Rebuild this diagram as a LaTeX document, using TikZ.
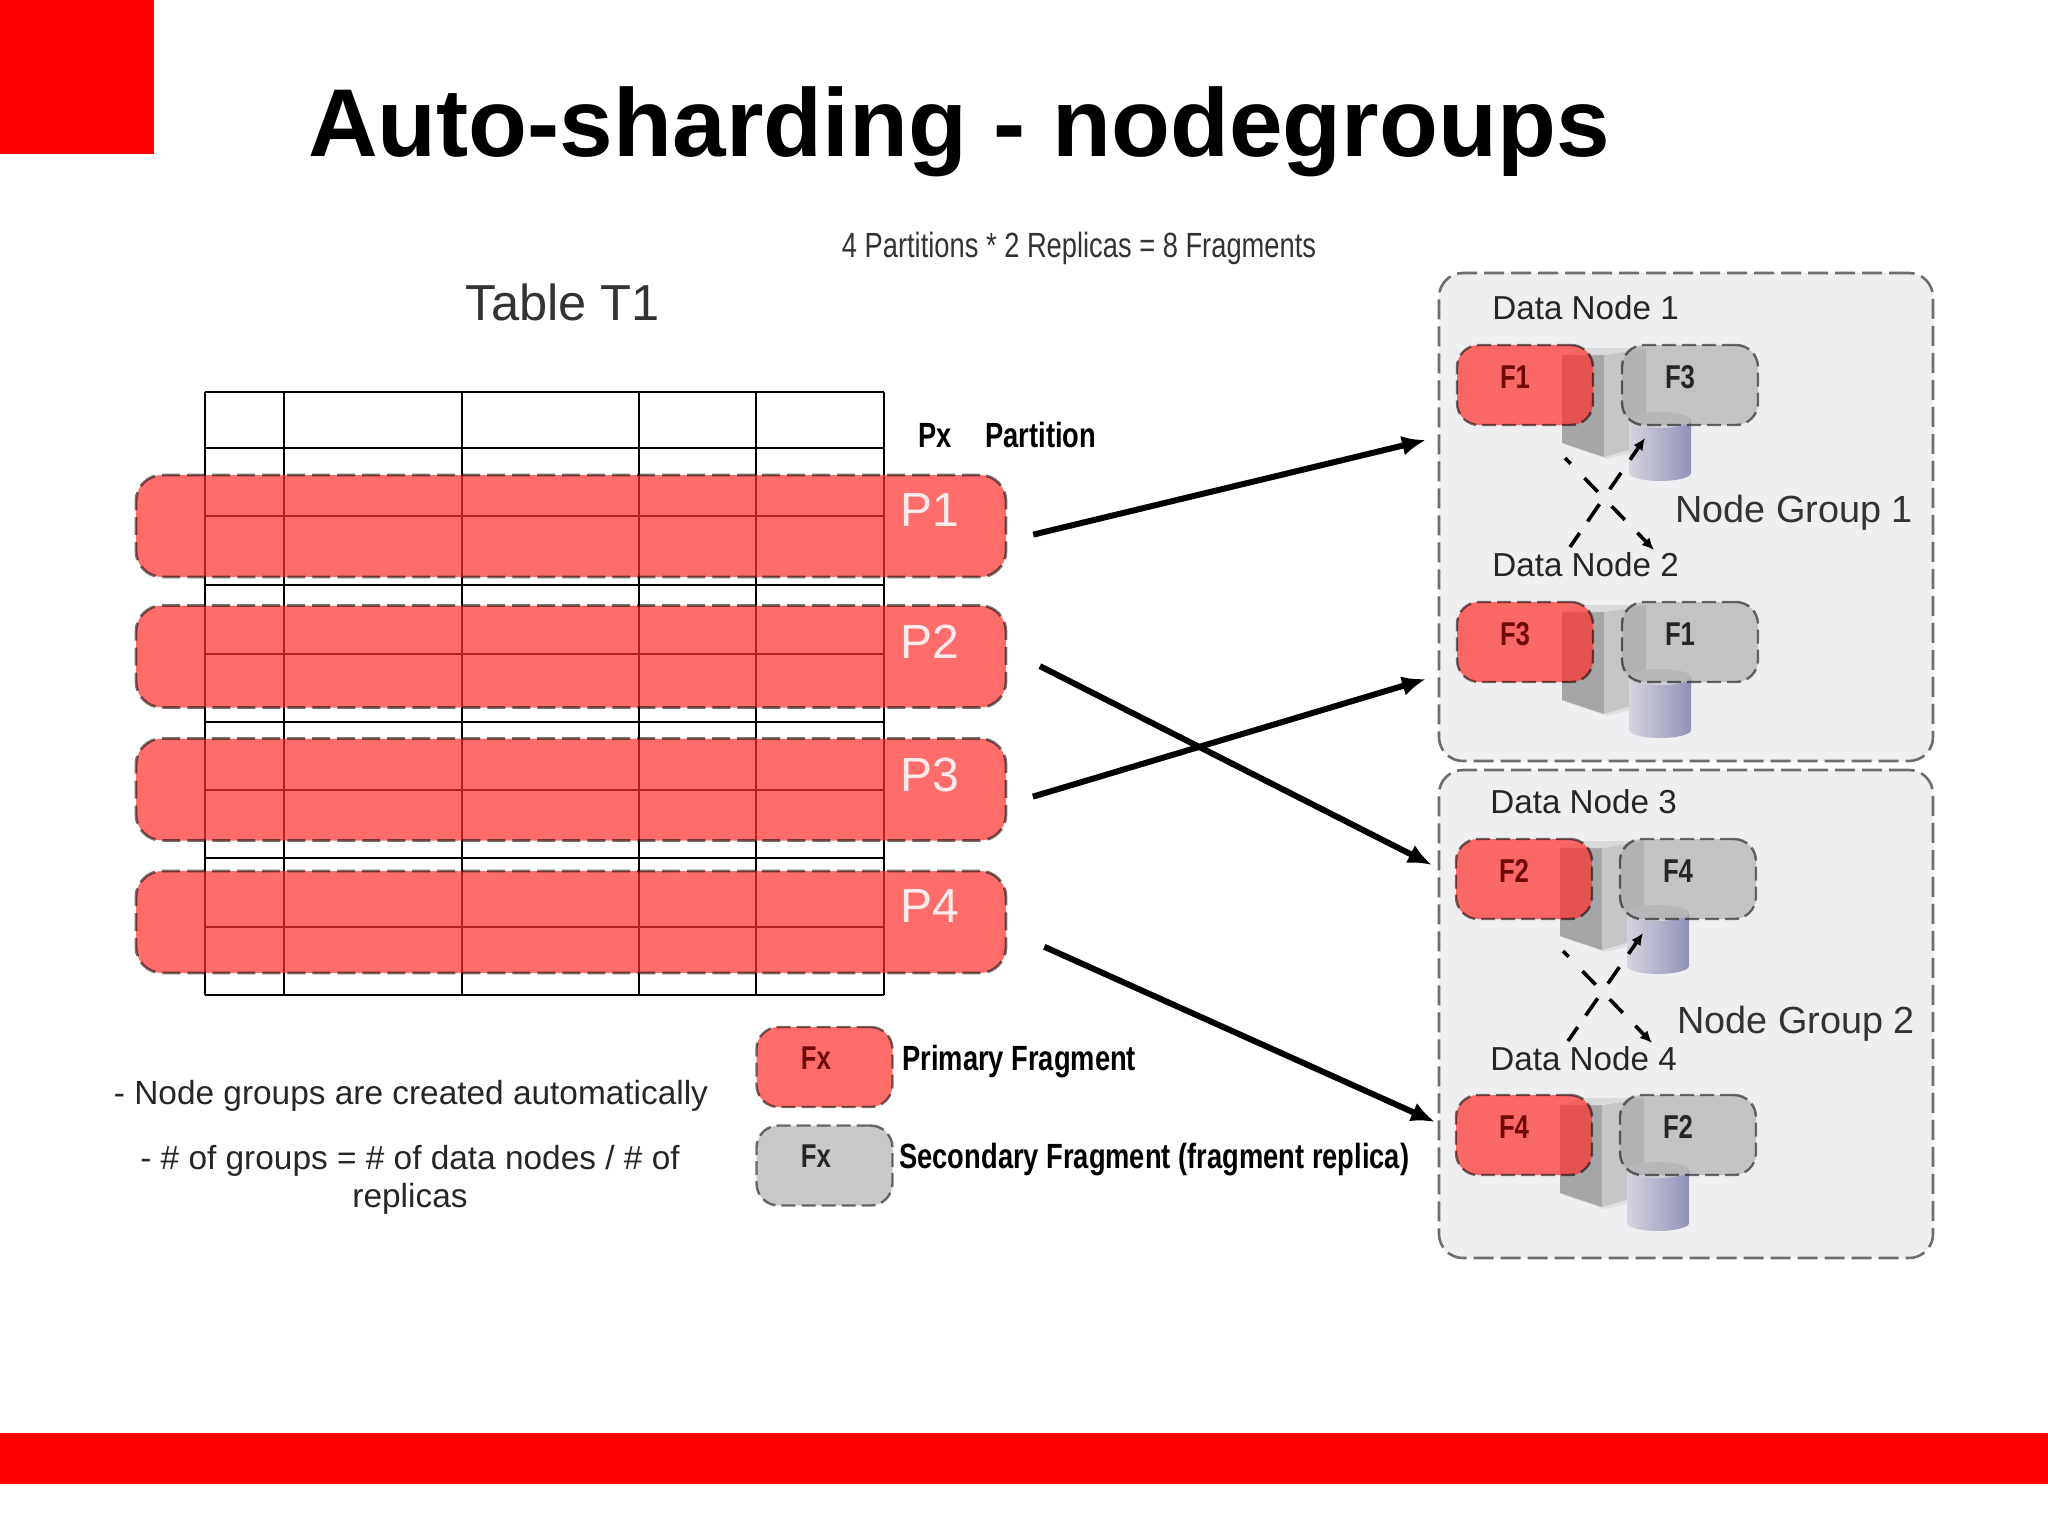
\documentclass[tikz,border=0pt]{standalone}
\usepackage{fontspec}
\setmainfont{Liberation Sans}
\newfontfamily\narrowfont[FakeStretch=0.78]{Liberation Sans}
\usetikzlibrary{arrows.meta}

\definecolor{groupfill}{HTML}{EFEFF1}
\definecolor{groupline}{HTML}{6E6E6E}
\definecolor{darkred}{HTML}{6D0A08}
\definecolor{bandred}{RGB}{255,48,43}

\tikzset{
  band/.style = {shape=rectangle, rounded corners=13pt, fill=bandred, fill opacity=.7,
    draw=black, draw opacity=.55, line width=1.4pt, dash pattern=on 9pt off 3.5pt,
    minimum width=435pt, minimum height=51pt, inner sep=0pt, outer sep=0pt},
  primary/.style = {band, rounded corners=11pt, dash pattern=on 7pt off 3pt, line width=1.2pt,
    minimum width=68pt, minimum height=40pt, text opacity=1, text=darkred,
    font=\narrowfont\bfseries\fontsize{16.5}{17}\selectfont},
  secondary/.style = {primary, fill=gray!70, fill opacity=.6, text=black!85},
  group/.style = {shape=rectangle, rounded corners=12pt, fill=groupfill, draw=groupline,
    line width=1.3pt, dash pattern=on 10pt off 3.5pt, minimum width=247pt, inner sep=0pt},
  datalabel/.style = {font=\fontsize{16.6}{18}\selectfont, anchor=west, inner sep=0pt, text=black!85},
  grouplabel/.style = {font=\fontsize{18.9}{20}\selectfont, anchor=west, inner sep=0pt, text=black!80},
  bandlabel/.style = {font=\fontsize{24}{24}\selectfont, text=white!92!red, inner sep=0pt},
  smalllabel/.style = {font=\narrowfont\bfseries\fontsize{17.5}{18}\selectfont, anchor=west, inner sep=0pt},
  notelabel/.style = {font=\fontsize{16.7}{19}\selectfont, align=center, inner sep=0pt, text=black!85},
  bigarrow/.style = {-{Latex[length=12pt,width=10pt]}, line width=3pt},
  crossdown/.style = {-{Latex[length=6pt,width=5.5pt]}, line width=1.8pt,
    dash pattern=on 4pt off 10pt on 9.5pt off 10pt on 9.5pt off 9pt on 30pt},
  crossup/.style = {-{Latex[length=6pt,width=5.5pt]}, line width=1.8pt,
    dash pattern=on 8.5pt off 7pt on 10.5pt off 9pt on 10pt off 8pt on 30pt},
}

% server and disk behind the two fragments of a data node
\newcommand{\dataserver}[2]{
  \begin{scope}[shift={(#1,#2)}]
    \fill[black!12] (108,100) -- (150,114) -- (190,104) -- (150,96) -- cycle;
    \fill[gray!70] (105,10) -- (147,10) -- (147,112) -- (105,98) -- cycle;
    \fill[gray!45] (147,10) -- (189,3) -- (189,100) -- (147,112) -- cycle;
    \fill[gray!30] (105,10) -- (129,3) -- (189,3) -- (147,10) -- cycle;
    \path[left color=blue!12!gray!30, right color=blue!22!gray!70]
      (172,75) -- (172,128) arc[start angle=180, end angle=360, x radius=31, y radius=-8]
      -- (234,75) -- cycle;
    \fill[blue!8!gray!35] (203,75) ellipse[x radius=31, y radius=8];
  \end{scope}
}

\begin{document}
\begin{tikzpicture}[x=0.5pt, y=-0.5pt]
  \useasboundingbox (0,0) rectangle (2048,1535);
  \fill[white] (0,0) rectangle (2048,1535);
  \fill[red] (0,0) rectangle (154,154);
  \fill[red] (0,1433) rectangle (2048,1484);

  \node[font=\bfseries\fontsize{48.2}{50}\selectfont, inner sep=0pt] (title) at (959,132) {Auto-sharding - nodegroups};
  \node[font=\narrowfont\fontsize{17.5}{18}\selectfont, inner sep=0pt, text=black!80] (total) at (1079,248) {4 Partitions * 2 Replicas = 8 Fragments};
  \node[font=\fontsize{25.3}{26}\selectfont, inner sep=0pt, text=black!80] (tablename) at (563,302) {Table T1};

  % table
  \foreach \x in {205,284,462,639,756,884}
    \draw[line width=1.4pt] (\x,392) -- (\x,995);
  \foreach \y in {392,448,516,585,654,722,790,858,927,995}
    \draw[line width=1.4pt] (205,\y) -- (884,\y);

  % partitions
  \foreach \name/\y/\ly in {1/526/510, 2/656.5/642, 3/789.5/775, 4/922/906} {
    \node[band] (P\name) at (571,\y) {};
    \node[bandlabel] (Plabel\name) at (930,\ly) {P\name};
  }
  \node[smalllabel] (px) at (918,435) {Px};
  \node[smalllabel] (partition) at (985,435) {Partition};

  % node groups
  \node[group, minimum height=244pt] (group1) at (1686,517) {};
  \node[group, minimum height=244pt] (group2) at (1686,1014) {};

  \dataserver{1457}{345}
  \dataserver{1457}{602}
  \dataserver{1455}{838}
  \dataserver{1455}{1095}

  \node[primary] (prim1) at (1525,385) {\raisebox{8pt}{F1}\hspace*{10pt}};
  \node[secondary] (sec1) at (1690,385) {\raisebox{8pt}{F3}\hspace*{10pt}};
  \node[primary] (prim2) at (1525,642) {\raisebox{8pt}{F3}\hspace*{10pt}};
  \node[secondary] (sec2) at (1690,642) {\raisebox{8pt}{F1}\hspace*{10pt}};
  \node[primary] (prim3) at (1524,879) {\raisebox{8pt}{F2}\hspace*{10pt}};
  \node[secondary] (sec3) at (1688,879) {\raisebox{8pt}{F4}\hspace*{10pt}};
  \node[primary] (prim4) at (1524,1135) {\raisebox{8pt}{F4}\hspace*{10pt}};
  \node[secondary] (sec4) at (1688,1135) {\raisebox{8pt}{F2}\hspace*{10pt}};

  \node[datalabel] (data1) at (1492,308) {Data Node 1};
  \node[datalabel] (data2) at (1492,565) {Data Node 2};
  \node[datalabel] (data3) at (1490,802) {Data Node 3};
  \node[datalabel] (data4) at (1490,1059) {Data Node 4};
  \node[grouplabel] (label1) at (1675,513) {Node Group 1};
  \node[grouplabel] (label2) at (1677,1024) {Node Group 2};

  % replication between data nodes
  \coordinate (a1) at (1565,458);
  \coordinate (b1) at (1654,550);
  \coordinate (c1) at (1570,547);
  \coordinate (d1) at (1645,438);
  \coordinate (a2) at (1563,951);
  \coordinate (b2) at (1652,1043);
  \coordinate (c2) at (1568,1041);
  \coordinate (d2) at (1643,933);
  \draw[crossdown] (a1) -- (b1);
  \draw[crossup] (c1) -- (d1);
  \draw[crossdown] (a2) -- (b2);
  \draw[crossup] (c2) -- (d2);

  % partitions to node groups
  \coordinate (in1) at (1426,440);
  \coordinate (in2) at (1432,865);
  \coordinate (in3) at (1426,679);
  \coordinate (in4) at (1435,1122);
  \draw[bigarrow, shorten <=14pt] (P1.-2.1) -- (in1);
  \draw[bigarrow, shorten <=19pt] (P2.1.5) -- (in2);
  \draw[bigarrow, shorten <=14pt] (P3.-2.2) -- (in3);
  \draw[bigarrow, shorten <=21pt] (P4.-1.7) -- (in4);

  % legend
  \node[primary] (legend1) at (824.5,1067) {\raisebox{9pt}{Fx}\hspace*{8.5pt}};
  \node[secondary] (legend2) at (824.5,1165.5) {\raisebox{9pt}{Fx}\hspace*{8.5pt}};
  \node[smalllabel] (legendtext1) at (902,1062) {Primary Fragment};
  \node[smalllabel] (legendtext2) at (899,1160) {Secondary Fragment (fragment replica)};

  \node[notelabel] (note1) at (411,1096) {- Node groups are created automatically};
  \node[notelabel] (note2) at (410,1180) {- \# of groups = \# of data nodes / \# of\\replicas};
\end{tikzpicture}
\end{document}
